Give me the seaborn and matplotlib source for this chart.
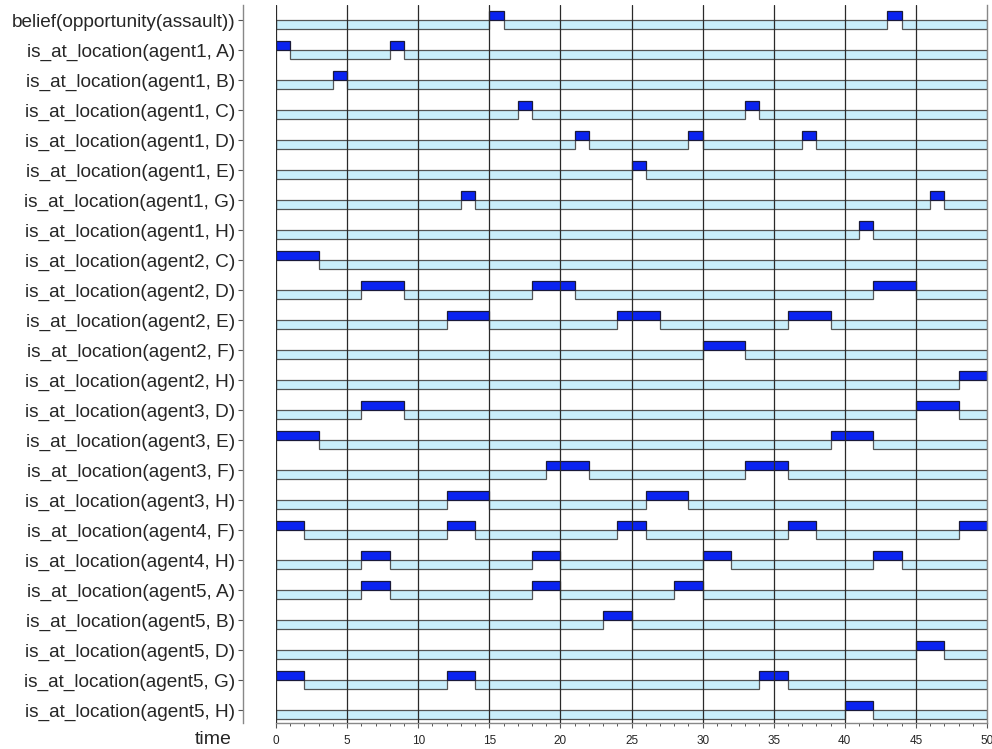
import matplotlib
matplotlib.use("Agg")
import matplotlib.pyplot as plt
from matplotlib.ticker import MultipleLocator
import pandas as pd
import seaborn as sns

# Fluents of the trace, top to bottom
labels = [
    "belief(opportunity(assault))",
    "is_at_location(agent1, A)",
    "is_at_location(agent1, B)",
    "is_at_location(agent1, C)",
    "is_at_location(agent1, D)",
    "is_at_location(agent1, E)",
    "is_at_location(agent1, G)",
    "is_at_location(agent1, H)",
    "is_at_location(agent2, C)",
    "is_at_location(agent2, D)",
    "is_at_location(agent2, E)",
    "is_at_location(agent2, F)",
    "is_at_location(agent2, H)",
    "is_at_location(agent3, D)",
    "is_at_location(agent3, E)",
    "is_at_location(agent3, F)",
    "is_at_location(agent3, H)",
    "is_at_location(agent4, F)",
    "is_at_location(agent4, H)",
    "is_at_location(agent5, A)",
    "is_at_location(agent5, B)",
    "is_at_location(agent5, D)",
    "is_at_location(agent5, G)",
    "is_at_location(agent5, H)",
]

# Time intervals during which each fluent holds
high_periods = [
    [(15, 16), (43, 44)],
    [(0, 1), (8, 9)],
    [(4, 5)],
    [(17, 18), (33, 34)],
    [(21, 22), (29, 30), (37, 38)],
    [(25, 26)],
    [(13, 14), (46, 47)],
    [(41, 42)],
    [(0, 3)],
    [(6, 9), (18, 21), (42, 45)],
    [(12, 15), (24, 27), (36, 39)],
    [(30, 33)],
    [(48, 50)],
    [(6, 9), (45, 48)],
    [(0, 3), (39, 42)],
    [(19, 22), (33, 36)],
    [(12, 15), (26, 29)],
    [(0, 2), (12, 14), (24, 26), (36, 38), (48, 50)],
    [(6, 8), (18, 20), (30, 32), (42, 44)],
    [(6, 8), (18, 20), (28, 30)],
    [(23, 25)],
    [(45, 47)],
    [(0, 2), (12, 14), (34, 36)],
    [(40, 42)],
]

t_start, t_end = 0, 50

# Split every row into true / false segments
segments = []
for row, periods in enumerate(high_periods):
    t = t_start
    for s, e in periods:
        if s > t:
            segments.append((row, t, s, False))
        segments.append((row, s, e, True))
        t = e
    if t < t_end:
        segments.append((row, t, t_end, False))
df = pd.DataFrame(segments, columns=["row", "start", "end", "state"])

sns.set_theme(style="white")
plt.rcParams["font.family"] = ["Liberation Sans", "DejaVu Sans"]

W, H = 992, 749
fig = plt.figure(figsize=(W / 100, H / 100), dpi=100)
ax = fig.add_axes([276 / W, 1 - 723 / H, (987 - 276) / W, (723 - 5) / H])

bar_h = 0.3
lo = df[~df["state"]]
hi = df[df["state"]]
ax.barh(lo["row"] + bar_h / 2, lo["end"] - lo["start"], left=lo["start"],
        height=bar_h, color="#c9eefb", edgecolor="#555555", linewidth=0.9, zorder=2)
ax.barh(hi["row"] - bar_h / 2, hi["end"] - hi["start"], left=hi["start"],
        height=bar_h, color="#0a23f0", edgecolor="#1a1a3a", linewidth=0.9, zorder=2)

# vertical time grid drawn over the bars
for x in range(t_start, t_end, 5):
    ax.axvline(x, color="#2a2a2a", linewidth=0.9, zorder=3)

ax.set_xlim(t_start, t_end)
ax.set_ylim(len(labels) - 1 + (723 - 20 - 30 * (len(labels) - 1)) / 30, -0.5)

ax.set_yticks(range(len(labels)))
ax.set_yticklabels(labels)
ax.xaxis.set_major_locator(MultipleLocator(5))
ax.xaxis.set_minor_locator(MultipleLocator(1))
ax.tick_params(axis="x", which="major", direction="out", length=3.5, width=0.8,
               color="#555555", labelsize=8.5, pad=5, bottom=True)
ax.tick_params(axis="x", which="minor", direction="out", length=2, width=0.7,
               color="#555555", bottom=True)
ax.tick_params(axis="y", direction="out", length=3.5, width=0.8,
               color="#555555", labelsize=13.7, pad=2, left=True)

ax.spines["top"].set_visible(False)
ax.spines["left"].set_position(("outward", 33 * 0.72))
for side in ["left", "right", "bottom"]:
    ax.spines[side].set_color("#888888")
    ax.spines[side].set_linewidth(1.0)

fig.text(232 / W, 1 - 739 / H, "time", ha="right", va="center", fontsize=14)

fig.savefig("out.png", dpi=100)
